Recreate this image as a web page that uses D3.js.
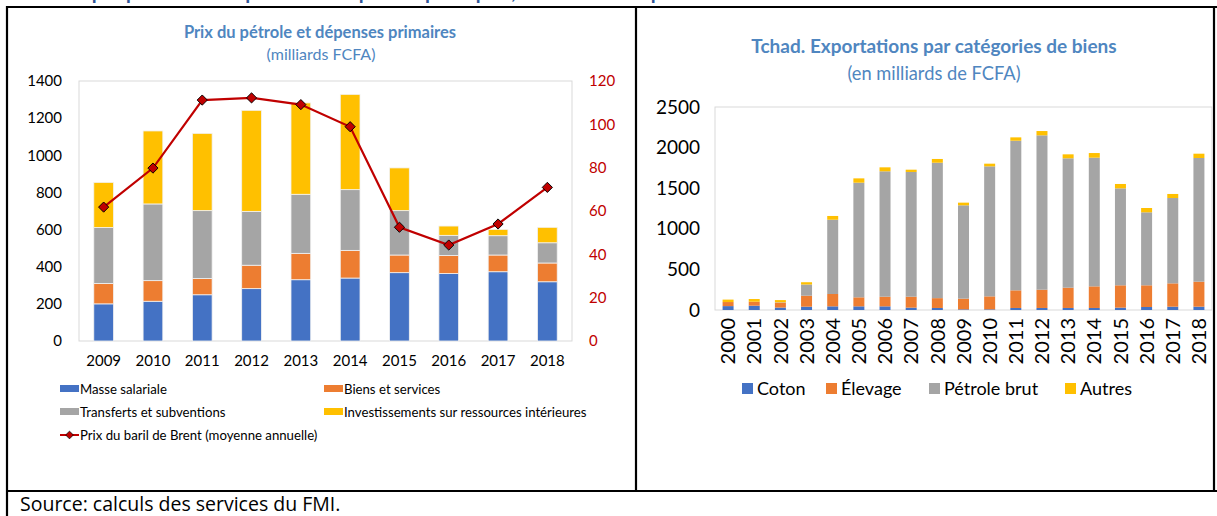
<!DOCTYPE html>
<html><head><meta charset="utf-8">
<script src="https://cdn.jsdelivr.net/npm/d3@7"></script>
<style>
body{margin:0;background:#fff}
svg{display:block}
text{font-family:Lato,"Open Sans",sans-serif}
</style>
</head><body>
<svg id="c" width="1217" height="516"></svg>
<script>
// ---------- Left chart data ----------
const yearsL = ["2009","2010","2011","2012","2013","2014","2015","2016","2017","2018"];
const masseSalariale = [200,214,249,282,330,339,368,363,373,319];
const biensServices = [110,111,87,126,142,149,95,97,90,101];
const transferts = [301,413,366,290,318,327,239,109,104,109];
const investissements = [243,393,416,544,492,513,230,50,34,83];
const brent = [61.8,79.8,111.2,112.2,109.1,98.9,52.5,44.3,54.0,70.9];
const leftTicks = [0,200,400,600,800,1000,1200,1400];
const rightTicks = [0,20,40,60,80,100,120];
const leftSeriesNames = ["Masse salariale","Biens et services","Transferts et subventions","Investissements sur ressources intérieures"];
const brentName = "Prix du baril de Brent (moyenne annuelle)";

// ---------- Right chart data ----------
const yearsR = ["2000","2001","2002","2003","2004","2005","2006","2007","2008","2009","2010","2011","2012","2013","2014","2015","2016","2017","2018"];
const coton =   [48,53,30,41,45,45,45,29,25,8,8,25,25,25,25,29,37,41,41];
const elevage = [50,49,60,135,152,111,119,135,121,132,160,217,225,250,266,275,267,287,308];
const petrole = [0,0,5,138,915,1412,1544,1536,1668,1149,1601,1843,1901,1593,1585,1194,899,1051,1523];
const autres =  [30,33,27,28,46,53,49,28,46,33,33,41,53,49,57,54,53,50,53];
const rTicks = [0,500,1000,1500,2000,2500];
const rightSeriesNames = ["Coton","Élevage","Pétrole brut","Autres"];

const colors = ["#4472c4","#ed7d31","#a5a5a5","#ffc000"];
const titleColor = "#4f86c0";
const fmt = d3.format("d");

const svg = d3.select("#c");

// ---------- Frame ----------
const frame = svg.append("g").attr("stroke","#000").attr("stroke-width",2.2);
frame.append("line").attr("x1",7).attr("x2",1217).attr("y1",7).attr("y2",7);
frame.append("line").attr("x1",7).attr("x2",1217).attr("y1",491).attr("y2",491);
frame.append("line").attr("x1",7).attr("x2",7).attr("y1",6).attr("y2",516);
frame.append("line").attr("x1",636).attr("x2",636).attr("y1",7).attr("y2",491);
frame.append("line").attr("x1",1214).attr("x2",1214).attr("y1",7).attr("y2",491);

// heading of the box, mostly hidden above the top edge as in the reference
svg.append("text").attr("x",60).attr("y",-1).attr("font-size",20).attr("font-weight","bold")
  .attr("fill","#2f5597").text("Graphique 1. Tchad : pétrole et dépenses publiques, 2009–18 et exportations du Tchad");

svg.append("text").attr("x",20).attr("y",510.5).attr("font-size",19.5)
  .style("font-family","'Open Sans',sans-serif").attr("fill","#000")
  .text("Source: calculs des services du FMI.");

// ---------- Left chart ----------
(function(){
  const x0=79,x1=572,yTop=81,yBot=341;
  const x = d3.scaleBand().domain(yearsL).range([x0,x1]).paddingInner(0.6).paddingOuter(0.3);
  const y = d3.scaleLinear().domain([0,1400]).range([yBot,yTop]);
  const y2 = d3.scaleLinear().domain([0,120]).range([yBot,yTop]);

  svg.append("rect").attr("x",x0).attr("y",yTop).attr("width",x1-x0).attr("height",yBot-yTop)
    .attr("fill","none").attr("stroke","#d9d9d9").attr("stroke-width",1);

  const rows = yearsL.map((yr,i)=>({year:yr,s0:masseSalariale[i],s1:biensServices[i],s2:transferts[i],s3:investissements[i]}));
  const stack = d3.stack().keys(["s0","s1","s2","s3"])(rows);
  svg.append("g").selectAll("g").data(stack).join("g").attr("fill",(d,i)=>colors[i])
    .selectAll("rect").data(d=>d).join("rect")
    .attr("x",d=>x(d.data.year)).attr("width",x.bandwidth())
    .attr("y",d=>y(d[1])).attr("height",d=>y(d[0])-y(d[1]))
    .attr("stroke","#f2f2f2").attr("stroke-width",0.8);

  const line = d3.line().x((d,i)=>x(yearsL[i])+x.bandwidth()/2).y(d=>y2(d));
  svg.append("path").datum(brent).attr("d",line).attr("fill","none").attr("stroke","#c00000").attr("stroke-width",2.2);
  svg.append("g").selectAll("path").data(brent).join("path")
    .attr("d",d3.symbol(d3.symbolSquare,52))
    .attr("transform",(d,i)=>`translate(${x(yearsL[i])+x.bandwidth()/2},${y2(d)}) rotate(45)`)
    .attr("fill","#c00000").attr("stroke","#000").attr("stroke-width",0.9);

  const ax = svg.append("g").attr("transform",`translate(${x0},0)`)
    .call(d3.axisLeft(y).tickValues(leftTicks).tickFormat(fmt).tickSize(0).tickPadding(17));
  ax.select(".domain").remove();
  ax.selectAll("text").attr("font-size",15).attr("fill","#000").style("font-family","Lato,sans-serif");

  const ax2 = svg.append("g").attr("transform",`translate(${x1},0)`)
    .call(d3.axisRight(y2).tickValues(rightTicks).tickFormat(fmt).tickSize(0).tickPadding(17));
  ax2.select(".domain").remove();
  ax2.selectAll("text").attr("font-size",15).attr("fill","#c00000").style("font-family","Lato,sans-serif");

  const axb = svg.append("g").attr("transform",`translate(0,${yBot})`)
    .call(d3.axisBottom(x).tickSize(0).tickPadding(14));
  axb.select(".domain").remove();
  axb.selectAll("text").attr("font-size",15).attr("fill","#000").style("font-family","Lato,sans-serif");

  svg.append("text").attr("x",320).attr("y",38).attr("text-anchor","middle").attr("font-size",16.5)
    .attr("font-weight","bold").attr("fill",titleColor).text("Prix du pétrole et dépenses primaires");
  svg.append("text").attr("x",321).attr("y",60).attr("text-anchor","middle").attr("font-size",16)
    .attr("fill",titleColor).text("(milliards FCFA)");

  // legend
  const lg = [{n:leftSeriesNames[0],x:60,y:389,c:colors[0]},{n:leftSeriesNames[1],x:324,y:389,c:colors[1]},
              {n:leftSeriesNames[2],x:60,y:412,c:colors[2]},{n:leftSeriesNames[3],x:324,y:412,c:colors[3]}];
  const lgG = svg.append("g");
  lg.forEach(d=>{
    lgG.append("rect").attr("x",d.x).attr("y",d.y-4).attr("width",19).attr("height",7).attr("fill",d.c);
    lgG.append("text").attr("x",d.x+20).attr("y",d.y+4.5).attr("font-size",13.2).attr("fill","#000").text(d.n);
  });
  lgG.append("line").attr("x1",60).attr("x2",79).attr("y1",435).attr("y2",435).attr("stroke","#c00000").attr("stroke-width",2);
  lgG.append("path").attr("d",d3.symbol(d3.symbolSquare,30)).attr("transform","translate(69.5,435) rotate(45)")
    .attr("fill","#c00000").attr("stroke","#000").attr("stroke-width",0.7);
  lgG.append("text").attr("x",80).attr("y",439.5).attr("font-size",13.2).attr("fill","#000").text(brentName);
})();

// ---------- Right chart ----------
(function(){
  const x0=715,x1=1212,yTop=107,yBot=310;
  const x = d3.scaleBand().domain(yearsR).range([x0,x1]).paddingInner(0.58).paddingOuter(0.29);
  const y = d3.scaleLinear().domain([0,2500]).range([yBot,yTop]);

  svg.append("rect").attr("x",x0).attr("y",yTop).attr("width",x1-x0).attr("height",yBot-yTop)
    .attr("fill","none").attr("stroke","#d9d9d9").attr("stroke-width",1);

  const rows = yearsR.map((yr,i)=>({year:yr,a:coton[i],b:elevage[i],c:petrole[i],d:autres[i]}));
  const stack = d3.stack().keys(["a","b","c","d"])(rows);
  svg.append("g").selectAll("g").data(stack).join("g").attr("fill",(d,i)=>colors[i])
    .selectAll("rect").data(d=>d).join("rect")
    .attr("x",d=>x(d.data.year)).attr("width",x.bandwidth())
    .attr("y",d=>y(d[1])).attr("height",d=>Math.max(0,y(d[0])-y(d[1])));

  const ax = svg.append("g").attr("transform",`translate(${x0},0)`)
    .call(d3.axisLeft(y).tickValues(rTicks).tickFormat(fmt).tickSize(0).tickPadding(15));
  ax.select(".domain").remove();
  ax.selectAll("text").attr("font-size",19).attr("fill","#000").style("font-family","Lato,sans-serif");

  const axb = svg.append("g").attr("transform",`translate(0,${yBot})`)
    .call(d3.axisBottom(x).tickSize(0).tickPadding(8));
  axb.select(".domain").remove();
  axb.selectAll("text").attr("font-size",20).attr("fill","#000").style("font-family","Lato,sans-serif")
    .attr("transform","rotate(-90)").attr("text-anchor","end").attr("x",-8).attr("y",0).attr("dy","0.36em");

  svg.append("text").attr("x",934).attr("y",53).attr("text-anchor","middle").attr("font-size",19)
    .attr("font-weight","bold").attr("fill",titleColor).text("Tchad. Exportations par catégories de biens");
  svg.append("text").attr("x",934).attr("y",80).attr("text-anchor","middle").attr("font-size",18.3)
    .attr("fill",titleColor).text("(en milliards de FCFA)");

  const lx = [742,826,929,1065];
  const lgG = svg.append("g");
  rightSeriesNames.forEach((n,i)=>{
    lgG.append("rect").attr("x",lx[i]).attr("y",383).attr("width",11).attr("height",11).attr("fill",colors[i]);
    lgG.append("text").attr("x",lx[i]+15).attr("y",395).attr("font-size",18).attr("fill","#000").text(n);
  });
})();
</script>
</body></html>
